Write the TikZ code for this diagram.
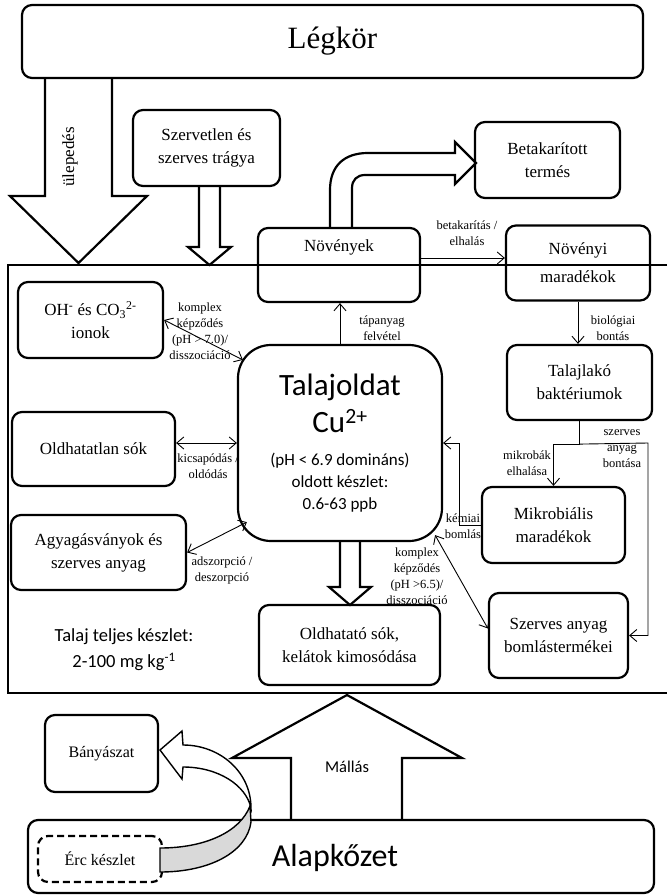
\documentclass[tikz,border=0pt]{standalone}
\usepackage{fontspec}
\setmainfont{Liberation Serif}
\newfontfamily\calibri{Carlito}
\usetikzlibrary{arrows.meta}

\tikzset{
  box/.style={draw, line width=2.2pt, rounded corners=10pt, align=center, inner sep=0pt,
    font=\fontsize{17}{23}\selectfont},
  hollow/.style={draw, line width=2.2pt, line join=miter},
  conn/.style={line width=0.9pt},
  conarr/.style={conn, -{Straight Barb[length=7pt,width=12pt]}},
  dblarr/.style={conn, {Straight Barb[length=7pt,width=12pt]}-{Straight Barb[length=7pt,width=12pt]}},
  lbl/.style={align=center, inner sep=0pt, font=\fontsize{12.5}{16}\selectfont},
}

\begin{document}
\begin{tikzpicture}[x=1pt, y=-1pt]
  \useasboundingbox (0,0) rectangle (667,896);

  % soil frame
  \draw[line width=2.2pt] (667,265) -- (8,265) -- (8,693) -- (667,693);

  % hollow arrows
  \draw[hollow] (45,78) -- (45,196) -- (10,196) -- (78.5,263) -- (147,196) -- (112,196) -- (112,78);
  \draw[hollow] (199,186) -- (199,247) -- (188,247) -- (209.5,265) -- (231,247) -- (220,247) -- (220,186);
  \draw[hollow] (330,228) -- (330,190) .. controls (330,166) and (344,153) .. (368,153) -- (455,153)
    -- (455,142) -- (476,163) -- (455,184) -- (455,175) -- (365,175)
    .. controls (357,175) and (352,180) .. (352,188) -- (352,228);
  \draw[hollow] (340,541) -- (340,587) -- (329,587) -- (350,605) -- (371,587) -- (360,587) -- (360,541);
  \draw[hollow] (291,820) -- (291,758) -- (232,758) -- (347,695) -- (462,758) -- (402,758) -- (402,820);
  \node[rotate=90, font=\fontsize{17}{17}\selectfont] (ulep) at (70,157) {ülepedés};
  \node[font=\calibri\fontsize{16.5}{16.5}\selectfont] (mallas) at (347,767) {Mállás};

  % boxes
  \node[box, minimum width=621pt, minimum height=73pt, font=\fontsize{31}{31}\selectfont] (legkor) at (332.5,41.5) {Légkör};
  \node[box, minimum width=147pt, minimum height=76pt] (tragya) at (206.5,148) {Szervetlen és\\szerves trágya};
  \node[box, minimum width=145pt, minimum height=76pt] (betak) at (547.5,160) {Betakarított\\termés};
  \node[box, minimum width=162pt, minimum height=74pt] (noveny) at (339,265) {};
  \node[font=\fontsize{17}{23}\selectfont] (novenytxt) at ([yshift=-21pt]noveny.north) {Növények};
  \node[box, minimum width=144pt, minimum height=75pt, font=\fontsize{17}{28}\selectfont] (maradek) at (578,263) {Növényi\\maradékok};
  \node[box, minimum width=145pt, minimum height=76pt] (oh) at (90.5,320) {OH\textsuperscript{-} és CO\textsubscript{3}\textsuperscript{2-}\\ionok};
  \node[box, minimum width=204pt, minimum height=196pt, rounded corners=33pt, font=\calibri\fontsize{17}{22}\selectfont] (tal) at (340,443)
    {{\fontsize{31}{31}\selectfont Talajoldat}\\[8pt]{\fontsize{31}{31}\selectfont Cu\textsuperscript{2+}}\\[11pt](pH < 6.9 domináns)\\oldott készlet:\\0.6-63 ppb};
  \node[box, minimum width=163pt, minimum height=74pt] (oldhat) at (93.5,449) {Oldhatatlan sók};
  \node[box, minimum width=175pt, minimum height=75pt] (agyag) at (98.5,552.5) {Agyagásványok és\\szerves anyag};
  \node[box, minimum width=181pt, minimum height=80pt] (oldhato) at (349.5,645) {Oldhatató sók,\\kelátok kimosódása};
  \node[box, minimum width=145pt, minimum height=75pt] (bakt) at (579.5,382.5) {Talajlakó\\baktériumok};
  \node[box, minimum width=143pt, minimum height=76pt] (mikrob) at (553.5,525) {Mikrobiális\\maradékok};
  \node[box, minimum width=139pt, minimum height=85pt] (szerves) at (558.5,635.5) {Szerves anyag\\bomlástermékei};
  \node[box, minimum width=113pt, minimum height=77pt, font=\fontsize{16}{20}\selectfont] (banya) at (101.5,753.5) {Bányászat};
  \node[box, minimum width=626pt, minimum height=73pt] (alap) at (341,856.5) {};
  \node[font=\calibri\fontsize{32}{32}\selectfont] (alaptxt) at (335,858) {Alapkőzet};
  \node[box, dash pattern=on 7pt off 4pt, minimum width=124pt, minimum height=46pt, font=\fontsize{16}{20}\selectfont] (erc) at (100,859) {Érc készlet};
  \node[align=center, font=\calibri\fontsize{18.5}{26}\selectfont] (keszlet) at (124,650) {Talaj teljes készlet:\\2-100 mg kg\textsuperscript{-1}};

  % mining arrow
  \draw[line width=1.4pt, fill=gray!30] (250,806) -- (251,822) .. controls (247,852) and (210,872) .. (160,872)
    -- (160,848) .. controls (205,848) and (240,832) .. (250,806) -- cycle;
  \draw[line width=1.4pt, fill=white] (183,745) .. controls (220,745) and (251,772) .. (251,808)
    .. controls (246,785) and (218,767) .. (183,767) -- (182,779) -- (160,750) -- (182,731) -- cycle;

  % connectors
  \draw[conarr] (tal.north) -- (tal.north |- noveny.south);
  \node[lbl] (tapl) at (382,328) {tápanyag\\felvétel};
  \draw[conarr] ([yshift=7pt]noveny.east) -- ([yshift=7pt]noveny.east -| maradek.west);
  \node[lbl] (betl) at (467,233) {betakarítás /\\elhalás};
  \draw[conarr] (maradek.south) -- (maradek.south |- bakt.north);
  \node[lbl] (biol) at (613,328) {biológiai\\bontás};
  \coordinate (split) at ([yshift=-23pt]bakt.south);
  \coordinate (rt) at (648,443);
  \draw[conn] (bakt.south) -- (split);
  \draw[conarr] (split) -| (mikrob.north);
  \draw[conarr] (split) -- (rt) |- (szerves.east);
  \node[lbl] (mikl) at (527,463) {mikrobák\\elhalása};
  \node[lbl] (szbl) at (622,449) {szerves\\anyag\\bontása};
  \draw[conarr] (mikrob.west) -- ++(-21,0) |- (tal.east);
  \node[lbl] (keml) at (463,526) {kémiai\\bomlás};
  \draw[dblarr] (oh.east) -- ([shift={(6,16)}]tal.north west);
  \node[lbl] (ohl) at (200,331) {komplex\\képződés\\(pH > 7.0)/\\disszociáció};
  \draw[dblarr] (oldhat.east |- tal.west) -- (tal.west);
  \node[lbl] (kicl) at (208,466) {kicsapódás /\\oldódás};
  \draw[dblarr] (agyag.east) -- ([shift={(10,-20)}]tal.south west);
  \node[lbl] (adsl) at (222,570) {adszorpció /\\deszorpció};
  \draw[dblarr] ([shift={(-8,-7)}]tal.south east) -- ([yshift=7pt]szerves.west);
  \node[lbl] (kpl) at (417,576) {komplex\\képződés\\(pH >6.5)/\\disszociáció};
\end{tikzpicture}
\end{document}
